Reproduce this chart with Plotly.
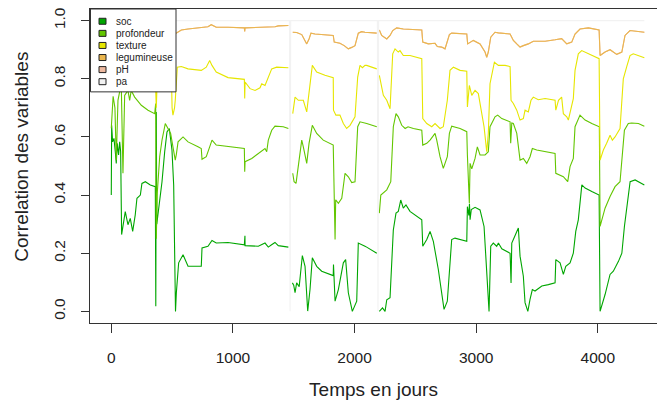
import plotly.graph_objects as go

# ---------------- data ----------------
series_names = ["soc", "profondeur", "texture", "legumineuse", "pH", "pa"]
series_colors = ["#00A600", "#63C600", "#E6E600", "#EAB64E", "#EEB99F", "#F2F2F2"]

x_tick_vals = [0, 1000, 2000, 3000, 4000]
y_tick_vals = [0.0, 0.2, 0.4, 0.6, 0.8, 1.0]
y_tick_text = ["0.0", "0.2", "0.4", "0.6", "0.8", "1.0"]

soc_t = [0, 3, 11, 22, 33, 41, 49, 60, 69, 77, 85, 115, 137, 156, 176, 197, 211, 239, 252, 280,
         321, 362, 366, 370, 374, 390, 417, 439, 458, 477, 499, 513, 521, 528, 535, 554, 590, 631,
         740, 746, 795, 828, 863, 960, 1094, 1099, 1100, 1209, 1264, 1291, 1318, 1346, 1373, 1456,
         1470, 1489, 1500, 1511, 1524, 1545, 1571, 1593, 1615, 1634, 1653, 1689, 1730, 1825, 1827,
         1840, 1867, 1908, 1927, 1949, 1982, 2018, 2031, 2086, 2100, 2183,
         2193, 2204, 2230, 2251, 2265, 2292, 2319, 2341, 2360, 2380, 2401, 2423, 2456, 2553, 2561,
         2594, 2621, 2648, 2689, 2736, 2763, 2799, 2826, 2923, 2928, 2940, 2945, 2950, 2960, 2991,
         3032, 3065, 3087, 3106, 3120, 3141, 3169, 3183, 3211, 3279, 3287, 3293, 3306, 3326, 3347,
         3361, 3388, 3402, 3425, 3443, 3462, 3484, 3540, 3594, 3649, 3655, 3690, 3717, 3737, 3772,
         3799, 3819, 3840, 3869, 3896, 3951, 4011, 4019, 4060, 4101, 4128, 4170, 4198, 4219, 4239,
         4266, 4307, 4348, 4383]
soc_v = [0.40, 0.64, 0.583, 0.595, 0.549, 0.509, 0.578, 0.538, 0.583, 0.549, 0.264, 0.343, 0.298,
         0.32, 0.275, 0.332, 0.389, 0.40, 0.44, 0.446,
         0.435, 0.429, 0.018, 0.686, 0.30, 0.355, 0.446, 0.549, 0.617, 0.629, 0.555, 0.435, 0.092,
         0.0, 0.064, 0.167, 0.195, 0.155,
         0.155, 0.218, 0.224, 0.244, 0.235, 0.237, 0.229, 0.26, 0.226, 0.224, 0.235, 0.221, 0.229,
         0.237, 0.226, 0.221,
         None, 0.098, 0.09, 0.064, 0.098, 0.085, 0.192, 0.155, 0.001, 0.075, 0.184, 0.155, 0.138,
         0.123, 0.161,
         0.035, 0.075, 0.167, 0.178, 0.064, 0.0, 0.035, 0.235, 0.224, 0.221, 0.20,
         None, 0.0, 0.012, 0.0, 0.04, 0.047, 0.28, 0.338, 0.344, 0.383, 0.355, 0.366, 0.344, 0.315,
         0.224,
         0.247, 0.275, 0.241, 0.144, 0.007, 0.035, 0.247, 0.252, 0.241, 0.36, 0.33, 0.37, 0.315,
         0.35, 0.358,
         0.349, 0.292, 0.155, 0.0, 0.224, 0.235, 0.224, 0.235, 0.215, 0.20, 0.098, 0.235, 0.247,
         0.27, 0.287,
         0.19, 0.121, 0.03, 0.0, 0.041, 0.075, 0.07, 0.087, 0.092, 0.098, 0.178, 0.167, 0.127,
         0.155, 0.167,
         0.20, 0.275, 0.315, 0.435, 0.424, 0.412, 0.40, 0.0, 0.058, 0.127, 0.138, 0.172, 0.20,
         0.292, 0.36,
         0.446, 0.452, 0.443, 0.435]

prof_t = [0, 15, 30, 41, 55, 82, 96, 110, 137, 151, 164, 192, 247, 302, 357, 365, 370, 378, 398,
          417, 444, 466, 488, 507, 526, 535, 549, 590, 631, 713, 740, 746, 781, 809, 828, 863, 960,
          1094, 1097, 1100, 1155, 1223, 1250, 1264, 1278, 1291, 1319, 1346, 1414, 1456,
          1470, 1492, 1503, 1519, 1544, 1566, 1579, 1607, 1626, 1653, 1689, 1743, 1825, 1831, 1840,
          1845, 1867, 1895, 1922, 1949, 1977, 2004, 2026, 2045, 2086, 2100, 2183,
          2193, 2204, 2216, 2265, 2298, 2319, 2341, 2360, 2388, 2416, 2440, 2484, 2553, 2561, 2594,
          2621, 2662, 2676, 2703, 2730, 2763, 2780, 2799, 2868, 2923, 2928, 2936, 2944, 2950, 2964,
          2991, 3010, 3032, 3073, 3100, 3114, 3141, 3155, 3177, 3211, 3279, 3284, 3293, 3306, 3334,
          3361, 3388, 3416, 3443, 3462, 3498, 3567, 3649, 3655, 3690, 3717, 3753, 3772, 3799, 3813,
          3854, 3896, 3951, 4013, 4019, 4060, 4101, 4142, 4183, 4198, 4219, 4251, 4278, 4334, 4383]
prof_v = [0.63, 0.74, 0.70, 0.52, 0.726, 0.783, 0.475, 0.743, 0.76, 0.726, 0.76, 0.737, 0.709,
          0.692, 0.68, 0.715, 0.25, 0.406, 0.532,
          0.589, 0.646, 0.629, 0.612, 0.566, 0.52, 0.54, 0.583, 0.60, 0.583, 0.566, 0.56, 0.523,
          0.532, 0.566, 0.589, 0.572, 0.566,
          0.56, 0.48, 0.515, 0.526, 0.549, 0.555, 0.56, 0.549, 0.589, 0.623, 0.637, 0.635, 0.629,
          None, 0.475, 0.446, 0.44, 0.52, 0.589, 0.566, 0.509, 0.578, 0.64, 0.612, 0.589, 0.572,
          0.412, 0.247,
          0.384, 0.372, 0.389, 0.475, 0.463, 0.443, 0.446, 0.635, 0.652, 0.646, 0.646, 0.635,
          None, 0.338, 0.40, 0.418, 0.446, 0.635, 0.68, 0.669, 0.64, 0.629, 0.635, 0.629, 0.623,
          0.572, 0.578,
          0.589, 0.612, 0.589, 0.532, 0.492, 0.532, 0.612, 0.637, 0.629, 0.618, 0.538, 0.412,
          0.372, 0.509, 0.49,
          0.526, 0.566, 0.538, 0.538, 0.549, 0.635, 0.657, 0.669, 0.675, 0.663, 0.652, 0.578,
          0.648, 0.646, 0.612,
          0.52, 0.526, 0.509, 0.532, 0.56, 0.555, 0.549, 0.543, 0.475, 0.469, 0.463, 0.446, 0.498,
          0.526, 0.635,
          0.675, 0.658, 0.646, 0.635, 0.292, 0.355, 0.395, 0.429, 0.446, 0.52, 0.623, 0.646, 0.648,
          0.646, 0.637]

text_t = [0, 40, 90, 150, 250, 330, 362, 366, 370, 374, 380, 450, 495, 500, 507, 520, 526, 543,
          576, 631, 740, 781, 809, 828, 863, 960, 1094, 1097, 1100, 1141, 1182, 1223, 1237, 1264,
          1291, 1319, 1360, 1456,
          1470, 1492, 1511, 1538, 1579, 1607, 1634, 1653, 1689, 1757, 1825, 1827, 1847, 1880, 1908,
          1935, 1963, 2004, 2026, 2045, 2065, 2086, 2100, 2183,
          2193, 2204, 2237, 2265, 2292, 2314, 2333, 2360, 2374, 2401, 2456, 2553, 2561, 2594, 2635,
          2662, 2703, 2730, 2763, 2785, 2813, 2868, 2923, 2928, 2944, 2964, 2991, 3018, 3037, 3065,
          3087, 3100, 3114, 3141, 3150, 3183, 3238, 3279, 3287, 3306, 3334, 3361, 3388, 3402, 3429,
          3451, 3470, 3511, 3567, 3649, 3655, 3677, 3703, 3717, 3745, 3758, 3799, 3813, 3840, 3868,
          4011, 4019, 4046, 4073, 4101, 4120, 4142, 4183, 4210, 4237, 4265, 4292, 4383]
text_v = [0.86, 0.88, 0.84, 0.87, 0.86, 0.85, 0.80, 0.76, 0.70, 0.749, 0.85, 0.87, 0.80, 0.70,
          0.675, 0.70, 0.726, 0.84,
          0.842, 0.834, 0.829, 0.84, 0.863, 0.846, 0.823, 0.804, 0.798, 0.732, 0.789, 0.766, 0.76,
          0.769, 0.783, 0.777,
          0.806, 0.834, 0.84, 0.838,
          None, 0.68, 0.737, 0.726, 0.726, 0.686, 0.772, 0.846, 0.823, 0.812, 0.804, 0.692, 0.675,
          0.675, 0.646,
          0.629, 0.64, 0.669, 0.806, 0.846, 0.838, 0.846, 0.846, 0.834,
          None, 0.812, 0.743, 0.726, 0.697, 0.886, 0.903, 0.892, 0.897, 0.88, 0.88, 0.869, 0.663,
          0.646, 0.635,
          0.646, 0.629, 0.635, 0.726, 0.829, 0.84, 0.829, 0.826, 0.703, 0.777, 0.743, 0.76, 0.749,
          0.703, 0.635,
          0.549, 0.612, 0.783, 0.84, 0.857, 0.846, 0.846, 0.842, 0.726, 0.715, 0.692, 0.658, 0.663,
          0.692, 0.686,
          0.726, 0.737, 0.728, 0.732, 0.726, 0.692, 0.726, 0.737, 0.68, 0.669, 0.658, 0.732, 0.829,
          0.886, 0.897,
          0.869, 0.52, 0.555, 0.578, 0.606, 0.589, 0.60, 0.629, 0.80, 0.84, 0.88, 0.886, 0.872]

leg_t = [0, 100, 200, 300, 366, 370, 374, 450, 507, 526, 535, 576, 631, 740, 795, 822, 863, 960,
         1094, 1097, 1100, 1346, 1373, 1456,
         1470, 1492, 1524, 1566, 1588, 1607, 1626, 1642, 1675, 1730, 1825, 1833, 1880, 1915, 1949,
         1977, 2004, 2031, 2058, 2086, 2183,
         2193, 2204, 2223, 2265, 2292, 2314, 2347, 2401, 2553, 2561, 2607, 2662, 2681, 2717, 2744,
         2780, 2799, 2923, 2930, 2977, 3032, 3073, 3087, 3100, 3120, 3155, 3183, 3279, 3306, 3334,
         3361, 3388, 3429, 3470, 3567, 3649, 3703, 3745, 3786, 3813, 3854, 3923, 4011, 4019, 4060,
         4101, 4128, 4156, 4198, 4224, 4265, 4334, 4383]
leg_v = [0.97, 0.975, 0.97, 0.972, 0.97, 0.94, 0.97, 0.965, 0.95, 0.955, 0.96, 0.968, 0.971, 0.975,
         0.979, 0.986, 0.977, 0.977,
         0.975, 0.963, 0.975, 0.979, 0.982, 0.983,
         None, 0.96, 0.959, 0.952, 0.934, 0.92, 0.937, 0.957, 0.954, 0.952, 0.949, 0.926, 0.922,
         0.914, 0.903,
         0.908, 0.914, 0.957, 0.962, 0.96, 0.957,
         None, 0.968, 0.949, 0.937, 0.949, 0.966, 0.975, 0.971, 0.968, 0.926, 0.92, 0.922, 0.911,
         0.909, 0.903,
         0.952, 0.957, 0.954, 0.92, 0.932, 0.92, 0.892, 0.874, 0.892, 0.943, 0.96, 0.958, 0.954,
         0.932, 0.92,
         0.909, 0.914, 0.92, 0.929, 0.929, 0.934, 0.938, 0.92, 0.926, 0.954, 0.971, 0.975, 0.968,
         0.88, 0.892,
         0.90, 0.892, 0.884, 0.892, 0.949, 0.966, 0.963, 0.96]

# pH adds (almost) nothing: its cumulative line lies on the legumineuse line
ph_t = leg_t
ph_v = leg_v

pa_t = [0, 1465, 1470, 1475, 2188, 2193, 2198, 4383]
pa_v = [1.0, 1.0, 0.0, 1.0, 1.0, 0.0, 1.0, 1.0]

series_t = [soc_t, prof_t, text_t, leg_t, ph_t, pa_t]
series_v = [soc_v, prof_v, text_v, leg_v, ph_v, pa_v]

# ---------------- figure ----------------
W, H = 657, 410
L, R, T, B = 90, 657, 9, 323.5       # plot area in pixels
FONT = "Liberation Sans, Arial, Helvetica, sans-serif"

fig = go.Figure()
draw_order = [0, 1, 2, 4, 3, 5]
for i in draw_order:
    fig.add_trace(go.Scatter(
        x=series_t[i], y=series_v[i], mode="lines", name=series_names[i],
        line=dict(color=series_colors[i], width=1.1), connectgaps=False,
        showlegend=False, hoverinfo="x+y+name"))

def px_x(px):
    return (px - L) / (R - L)

def px_y(py):
    return (B - py) / (B - T)

shapes = [dict(type="rect", xref="paper", yref="paper",
               x0=px_x(90.5), x1=px_x(176), y0=px_y(92), y1=1,
               line=dict(color="#333333", width=1), fillcolor="white", layer="above")]
annotations = []
for i, name in enumerate(series_names):
    cy = 21.3 + 12.1 * i
    shapes.append(dict(type="rect", xref="paper", yref="paper",
                       xsizemode="pixel", ysizemode="pixel",
                       xanchor=px_x(102.5), yanchor=px_y(cy),
                       x0=-3.5, x1=3.5, y0=-3, y1=3,
                       line=dict(color="#222222", width=1),
                       fillcolor=series_colors[i], layer="above"))
    annotations.append(dict(xref="paper", yref="paper", x=px_x(114), y=px_y(cy),
                            xanchor="left", yanchor="middle", text=name, showarrow=False,
                            font=dict(family=FONT, size=10, color="#222222")))

# y-axis title (R mtext position)
annotations.append(dict(xref="paper", yref="paper", x=px_x(22), y=px_y(157),
                        xanchor="center", yanchor="middle", textangle=-90,
                        text="Correlation des variables", showarrow=False,
                        font=dict(family=FONT, size=19, color="#222222")))

fig.update_layout(
    width=W, height=H,
    margin=dict(l=L, r=W - R, t=T, b=H - B, pad=0),
    paper_bgcolor="white", plot_bgcolor="white",
    font=dict(family=FONT, size=15, color="#222222"),
    shapes=shapes, annotations=annotations,
    showlegend=False,
)
fig.update_xaxes(
    range=[-175, 4487], showgrid=False, zeroline=False,
    showline=True, mirror=True, linecolor="#333333", linewidth=1,
    ticks="outside", ticklen=9, tickcolor="#333333", tickwidth=1,
    tickvals=x_tick_vals, ticktext=[str(v) for v in x_tick_vals],
    tickfont=dict(size=15.5), ticklabelstandoff=11,
    title=dict(text="Temps en jours", font=dict(size=19), standoff=18),
)
fig.update_yaxes(
    range=[-0.04, 1.04], showgrid=False, zeroline=False,
    showline=True, mirror=False, linecolor="#333333", linewidth=1,
    ticks="outside", ticklen=8, tickcolor="#333333", tickwidth=1,
    tickvals=y_tick_vals, ticktext=y_tick_text, tickangle=-90,
    tickfont=dict(size=15.5), ticklabelstandoff=10,
)

fig.write_html("out.html", config={"displayModeBar": False},
               post_script="document.body.style.margin='0px';")
